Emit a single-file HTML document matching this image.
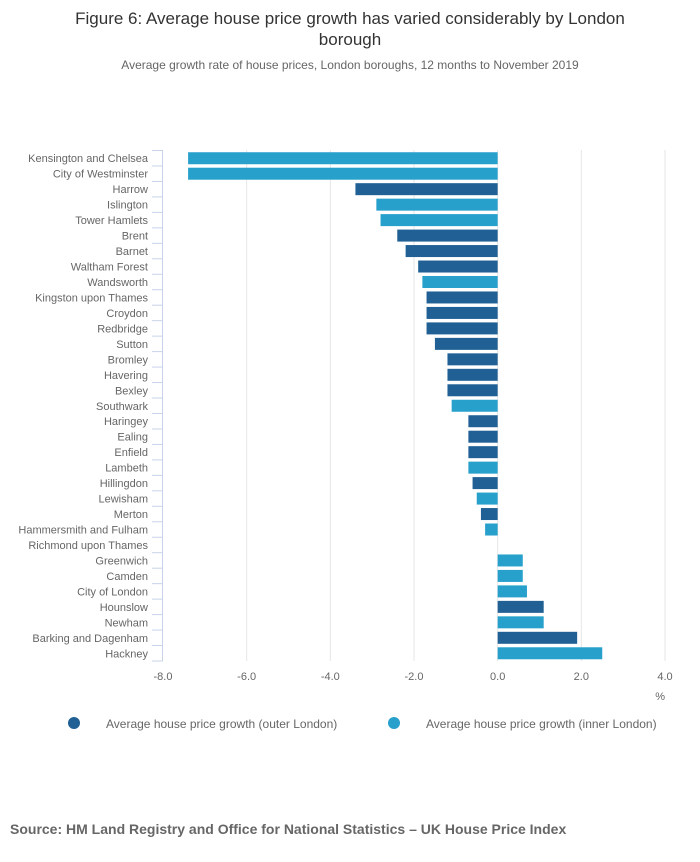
<!DOCTYPE html>
<html><head><meta charset="utf-8"><style>
body{margin:0;background:#fff;font-family:"Liberation Sans",sans-serif}
</style></head><body>
<svg id="c" width="700" height="857" xmlns="http://www.w3.org/2000/svg">
<text x="350" y="24" text-anchor="middle" font-size="17" fill="#333">Figure 6: Average house price growth has varied considerably by London</text>
<text x="350" y="45" text-anchor="middle" font-size="17" fill="#333">borough</text>
<text x="350" y="69" text-anchor="middle" font-size="12" fill="#666">Average growth rate of house prices, London boroughs, 12 months to November 2019</text>
<g id="grid"></g><g id="bars"></g><g id="axes"></g>
<text x="665" y="700" text-anchor="end" font-size="11" fill="#666">%</text>
<circle cx="74" cy="723" r="6" fill="#206095"/>
<text x="106" y="728" font-size="12" fill="#666">Average house price growth (outer London)</text>
<circle cx="394" cy="723" r="6" fill="#27a0cc"/>
<text x="426" y="728" font-size="12" fill="#666">Average house price growth (inner London)</text>
<text x="10" y="834" font-size="14" font-weight="bold" fill="#666">Source: HM Land Registry and Office for National Statistics – UK House Price Index</text>
</svg>
<script>
const categories=["Kensington and Chelsea","City of Westminster","Harrow","Islington","Tower Hamlets","Brent","Barnet","Waltham Forest","Wandsworth","Kingston upon Thames","Croydon","Redbridge","Sutton","Bromley","Havering","Bexley","Southwark","Haringey","Ealing","Enfield","Lambeth","Hillingdon","Lewisham","Merton","Hammersmith and Fulham","Richmond upon Thames","Greenwich","Camden","City of London","Hounslow","Newham","Barking and Dagenham","Hackney"];
const values=[-7.4,-7.4,-3.4,-2.9,-2.8,-2.4,-2.2,-1.9,-1.8,-1.7,-1.7,-1.7,-1.5,-1.2,-1.2,-1.2,-1.1,-0.7,-0.7,-0.7,-0.7,-0.6,-0.5,-0.4,-0.3,0,0.6,0.6,0.7,1.1,1.1,1.9,2.5];
const regions=["i","i","o","i","i","o","o","o","i","o","o","o","o","o","o","o","i","o","o","o","i","o","i","o","i","o","i","i","i","o","i","o","i"];
const xTicks=[-8,-6,-4,-2,0,2,4];
const xTickLabels=["-8.0","-6.0","-4.0","-2.0","0.0","2.0","4.0"];
const NS="http://www.w3.org/2000/svg";
const x=v=>163+(v+8)*(502/12);
const top0=150.5,step=15.47;
const y=i=>top0+i*step;
function mk(t,a,p){const e=document.createElementNS(NS,t);for(const k in a)e.setAttribute(k,a[k]);p.appendChild(e);return e;}
const grid=document.getElementById('grid'),bars=document.getElementById('bars'),axes=document.getElementById('axes');
xTicks.forEach((t,i)=>{
 if(t!==-8){const g=mk('line',{x1:x(t),x2:x(t),y1:150,y2:661,stroke:'#e6e6e6'},grid);
 
 }
 const l=mk('text',{x:x(t),y:680,'text-anchor':'middle','font-size':11,fill:'#666'},axes);l.textContent=xTickLabels[i];
 
 
});
const ax=mk('line',{x1:162.5,x2:162.5,y1:top0,y2:y(categories.length),stroke:'#c8d3ea'},axes);


for(let i=0;i<=categories.length;i++){const tk=mk('line',{x1:152,x2:163,y1:y(i),y2:y(i),stroke:'#c8d3ea'},axes);
 
 }
categories.forEach((c,i)=>{
 const cy=y(i)+step/2;
 const t=mk('text',{x:148,y:cy+4,'text-anchor':'end','font-size':11,fill:'#666'},axes);t.textContent=c;
 
 
 const v=values[i];
 const r=mk('rect',{x:Math.min(x(0),x(v)),y:cy-6,width:Math.abs(x(v)-x(0)),height:12,fill:regions[i]==='i'?'#27a0cc':'#206095'},bars);
 
 
});
</script>
</body></html>
